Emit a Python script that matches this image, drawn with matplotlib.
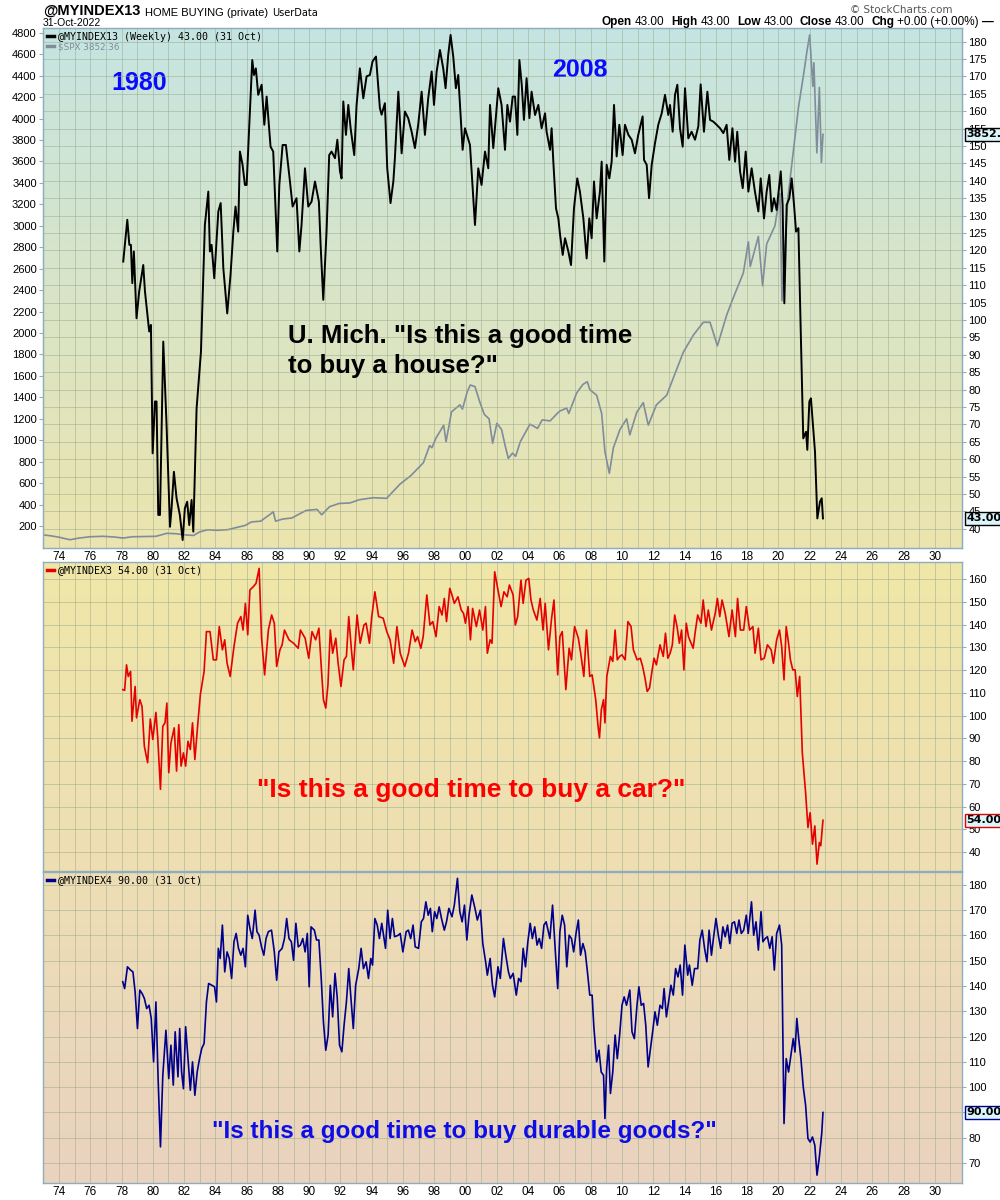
import matplotlib
matplotlib.use("Agg")
import matplotlib.pyplot as plt
import matplotlib.ticker as mticker
import numpy as np
from matplotlib.colors import to_rgb
from matplotlib.font_manager import FontProperties

plt.rcParams["font.family"] = ["Liberation Sans", "DejaVu Sans"]

# ---------------------------------------------------------------------------
# Data
# ---------------------------------------------------------------------------

HOUSE_YEARS = [
    1978.11, 1978.37, 1978.50, 1978.60, 1978.69, 1978.79, 1978.96, 1979.13, 1979.39, 1979.50,
    1979.77, 1979.88, 1979.99, 1980.14, 1980.24, 1980.35, 1980.46, 1980.67, 1980.88, 1981.10,
    1981.20, 1981.35, 1981.52, 1981.73, 1981.91, 1982.05, 1982.20, 1982.33, 1982.48, 1982.59,
    1982.80, 1983.08, 1983.33, 1983.55, 1983.65, 1983.76, 1983.93, 1984.19, 1984.34, 1984.51,
    1984.76, 1984.97, 1985.15, 1985.29, 1985.46, 1985.57, 1985.74, 1985.89, 1986.00, 1986.17,
    1986.36, 1986.47, 1986.59, 1986.74, 1986.96, 1987.13, 1987.28, 1987.53, 1987.70, 1987.96,
    1988.09, 1988.30, 1988.51, 1988.77, 1988.94, 1989.19, 1989.37, 1989.51, 1989.73, 1989.94,
    1990.15, 1990.37, 1990.62, 1990.73, 1990.90, 1991.11, 1991.28, 1991.43, 1991.65, 1991.80,
    1991.97, 1992.07, 1992.18, 1992.35, 1992.50, 1992.65, 1992.88, 1993.03, 1993.24, 1993.46,
    1993.67, 1993.88, 1994.05, 1994.27, 1994.52, 1994.63, 1994.84, 1994.99, 1995.20, 1995.38,
    1995.48, 1995.70, 1995.91, 1996.12, 1996.33, 1996.55, 1996.76, 1996.97, 1997.19, 1997.40,
    1997.61, 1997.83, 1997.98, 1998.15, 1998.36, 1998.57, 1998.72, 1998.89, 1999.04, 1999.21,
    1999.38, 1999.53, 1999.81, 1999.96, 2000.28, 2000.60, 2000.81, 2001.02, 2001.24, 2001.45,
    2001.56, 2001.77, 2002.09, 2002.30, 2002.52, 2002.67, 2002.84, 2003.01, 2003.16, 2003.31,
    2003.44, 2003.59, 2003.73, 2003.90, 2004.08, 2004.22, 2004.44, 2004.65, 2004.86, 2005.08,
    2005.18, 2005.40, 2005.50, 2005.61, 2005.78, 2005.93, 2006.04, 2006.21, 2006.36, 2006.57,
    2006.74, 2006.93, 2007.14, 2007.31, 2007.53, 2007.74, 2007.91, 2008.06, 2008.21, 2008.38,
    2008.59, 2008.70, 2008.87, 2009.02, 2009.19, 2009.34, 2009.49, 2009.66, 2009.83, 2010.04,
    2010.19, 2010.41, 2010.62, 2010.83, 2011.04, 2011.32, 2011.41, 2011.58, 2011.73, 2011.90,
    2012.11, 2012.32, 2012.54, 2012.75, 2012.96, 2013.07, 2013.24, 2013.39, 2013.54, 2013.71,
    2013.88, 2014.03, 2014.24, 2014.45, 2014.67, 2014.88, 2015.03, 2015.24, 2015.46, 2015.63,
    2015.84, 2016.05, 2016.27, 2016.48, 2016.69, 2016.86, 2017.06, 2017.23, 2017.37, 2017.55,
    2017.72, 2017.91, 2018.08, 2018.29, 2018.50, 2018.72, 2018.87, 2019.08, 2019.25, 2019.42,
    2019.57, 2019.72, 2019.89, 2020.15, 2020.27, 2020.38, 2020.53, 2020.70, 2020.85, 2021.00,
    2021.13, 2021.28, 2021.38, 2021.59, 2021.77, 2021.85, 2021.98, 2022.08, 2022.23, 2022.34,
    2022.49, 2022.66, 2022.77, 2022.85,
]
HOUSE_VALS = [
    116.8, 128.8, 121.6, 121.6, 110.6, 119.7, 100.5, 108.2, 115.8, 108.2,
    96.7, 98.6, 61.7, 76.6, 76.6, 44.0, 44.0, 93.8, 69.9, 40.6,
    45.9, 56.4, 48.8, 44.0, 36.8, 45.9, 47.8, 41.1, 48.3, 39.2,
    74.6, 90.9, 127.3, 136.9, 119.7, 121.6, 112.0, 131.2, 133.6, 114.9,
    101.9, 113.0, 125.4, 132.6, 125.4, 148.4, 144.6, 138.8, 138.8, 156.1,
    174.7, 170.4, 172.3, 164.7, 167.6, 156.1, 164.2, 149.8, 148.4, 119.7,
    138.8, 150.3, 150.3, 139.8, 132.6, 135.0, 119.7, 127.3, 143.6, 132.6,
    134.0, 139.8, 134.0, 121.6, 105.8, 125.4, 147.4, 148.4, 146.5, 151.8,
    142.7, 140.7, 162.8, 153.2, 161.8, 155.1, 147.4, 161.8, 172.3, 163.7,
    170.0, 170.4, 174.3, 175.7, 160.9, 159.0, 162.3, 143.6, 133.6, 139.8,
    146.5, 165.6, 147.9, 159.9, 158.0, 154.1, 149.4, 156.1, 165.6, 153.2,
    163.7, 171.4, 161.8, 171.4, 177.6, 172.3, 166.6, 176.2, 181.9, 175.7,
    166.6, 170.4, 148.9, 155.1, 150.3, 127.3, 143.6, 138.8, 148.4, 143.6,
    161.8, 149.4, 166.6, 161.8, 148.9, 161.8, 157.0, 164.2, 164.2, 153.2,
    174.7, 167.6, 157.5, 169.5, 158.0, 165.6, 158.9, 161.8, 155.1, 159.4,
    154.1, 148.9, 155.1, 145.5, 132.1, 129.2, 124.5, 118.7, 123.5, 119.7,
    115.8, 132.1, 140.7, 136.9, 129.2, 117.7, 129.2, 123.5, 139.8, 129.2,
    136.9, 145.5, 116.8, 144.6, 140.7, 145.5, 161.8, 147.0, 156.1, 147.4,
    156.1, 153.2, 151.8, 147.9, 153.2, 158.5, 146.0, 144.6, 135.0, 144.6,
    150.8, 156.1, 159.4, 164.7, 158.9, 161.8, 154.1, 164.7, 167.6, 155.1,
    149.8, 166.6, 152.2, 154.1, 151.8, 155.6, 167.7, 154.1, 165.6, 157.5,
    157.0, 156.1, 155.1, 153.7, 156.1, 146.0, 155.1, 145.5, 154.1, 142.7,
    137.9, 148.4, 136.9, 143.6, 136.9, 131.2, 140.7, 129.2, 136.9, 141.7,
    131.2, 135.0, 131.6, 142.7, 133.1, 104.8, 133.1, 135.0, 140.7, 133.1,
    125.4, 126.4, 106.3, 66.0, 67.9, 62.7, 76.6, 77.5, 68.9, 62.2,
    43.0, 47.8, 48.8, 43.0,
]

SPX_YEARS = [
    1972.98, 1973.50, 1974.00, 1974.70, 1975.30, 1976.00, 1976.80, 1977.50, 1978.10, 1978.70,
    1979.50, 1980.20, 1980.90, 1981.50, 1982.00, 1982.60, 1983.00, 1983.50, 1984.10, 1984.80,
    1985.40, 1985.90, 1986.30, 1986.90, 1987.60, 1987.70, 1987.85, 1988.30, 1988.90, 1989.40,
    1989.80, 1990.50, 1990.80, 1991.30, 1991.90, 1992.60, 1993.20, 1994.10, 1994.95, 1995.80,
    1996.50, 1997.30, 1997.70, 1997.85, 1998.10, 1998.60, 1998.75, 1999.10, 1999.64, 1999.80,
    2000.10, 2000.30, 2000.60, 2000.90, 2001.20, 2001.50, 2001.73, 2002.00, 2002.30, 2002.52,
    2002.73, 2003.00, 2003.20, 2003.50, 2004.12, 2004.60, 2004.90, 2005.40, 2006.00, 2006.46,
    2006.60, 2007.10, 2007.50, 2007.78, 2007.95, 2008.38, 2008.70, 2008.91, 2009.19, 2009.45,
    2009.87, 2010.30, 2010.50, 2010.94, 2011.36, 2011.68, 2012.20, 2012.86, 2013.28, 2013.92,
    2014.56, 2015.20, 2015.63, 2016.10, 2016.70, 2017.12, 2017.76, 2018.08, 2018.20, 2018.72,
    2018.99, 2019.25, 2019.78, 2020.10, 2020.23, 2020.60, 2021.00, 2021.28, 2021.60, 2021.85,
    2022.00, 2022.20, 2022.27, 2022.46, 2022.62, 2022.75, 2022.85,
]
SPX_VALS = [
    118, 108, 96, 72, 88, 100, 104, 98, 88, 100,
    102, 104, 132, 128, 118, 112, 145, 165, 160, 166,
    188, 205, 238, 245, 320, 334, 245, 265, 275, 315,
    345, 355, 305, 380, 410, 415, 445, 464, 458, 590,
    670, 790, 950, 930, 1018, 1140, 985, 1265, 1330, 1290,
    1450, 1515, 1500, 1360, 1240, 1200, 971, 1158, 1100, 956,
    831, 880, 850, 987, 1150, 1110, 1190, 1180, 1270, 1300,
    1250, 1440, 1520, 1546, 1470, 1420, 1250, 893, 691, 930,
    1100, 1200, 1050, 1260, 1350, 1140, 1330, 1420, 1580, 1820,
    1980, 2100, 2100, 1880, 2170, 2330, 2560, 2850, 2620, 2900,
    2440, 2830, 3000, 3300, 2300, 3250, 3750, 4100, 4400, 4650,
    4780, 4300, 4520, 3680, 4290, 3590, 3852.36,
]

CAR_YEARS = [
    1978.08, 1978.20, 1978.32, 1978.43, 1978.58, 1978.67, 1978.87, 1978.96, 1979.17, 1979.31,
    1979.46, 1979.67, 1979.84, 1980.00, 1980.20, 1980.31, 1980.49, 1980.64, 1980.78, 1980.90,
    1981.02, 1981.16, 1981.37, 1981.52, 1981.66, 1981.81, 1981.96, 1982.10, 1982.25, 1982.40,
    1982.54, 1982.69, 1982.90, 1983.04, 1983.28, 1983.43, 1983.66, 1983.87, 1984.07, 1984.25,
    1984.45, 1984.60, 1984.75, 1984.95, 1985.19, 1985.42, 1985.63, 1985.77, 1985.92, 1986.07,
    1986.21, 1986.42, 1986.60, 1986.80, 1986.95, 1987.15, 1987.39, 1987.60, 1987.77, 1987.92,
    1988.13, 1988.27, 1988.42, 1988.71, 1989.00, 1989.30, 1989.44, 1989.74, 1989.97, 1990.18,
    1990.41, 1990.62, 1990.77, 1990.91, 1991.06, 1991.20, 1991.35, 1991.50, 1991.70, 1991.85,
    1992.03, 1992.23, 1992.38, 1992.53, 1992.70, 1992.82, 1993.06, 1993.26, 1993.50, 1993.64,
    1993.85, 1993.99, 1994.20, 1994.44, 1994.73, 1994.96, 1995.17, 1995.40, 1995.61, 1995.82,
    1996.11, 1996.35, 1996.58, 1996.78, 1996.93, 1997.14, 1997.29, 1997.52, 1997.72, 1997.90,
    1998.11, 1998.31, 1998.49, 1998.64, 1998.78, 1998.99, 1999.13, 1999.28, 1999.51, 1999.72,
    1999.87, 1999.99, 2000.16, 2000.31, 2000.45, 2000.69, 2000.89, 2001.10, 2001.27, 2001.39,
    2001.57, 2001.69, 2001.86, 2002.07, 2002.27, 2002.45, 2002.66, 2002.80, 2003.04, 2003.18,
    2003.33, 2003.54, 2003.68, 2003.86, 2004.04, 2004.18, 2004.33, 2004.56, 2004.77, 2004.95,
    2005.09, 2005.30, 2005.50, 2005.65, 2005.89, 2006.03, 2006.18, 2006.41, 2006.62, 2006.77,
    2006.97, 2007.21, 2007.36, 2007.56, 2007.73, 2007.94, 2008.09, 2008.32, 2008.47, 2008.56,
    2008.68, 2008.82, 2008.91, 2009.03, 2009.26, 2009.41, 2009.56, 2009.70, 2009.85, 2010.00,
    2010.20, 2010.38, 2010.58, 2010.73, 2010.97, 2011.17, 2011.32, 2011.47, 2011.61, 2011.76,
    2011.90, 2012.05, 2012.20, 2012.43, 2012.64, 2012.78, 2012.93, 2013.08, 2013.22, 2013.37,
    2013.52, 2013.67, 2013.81, 2013.96, 2014.11, 2014.25, 2014.55, 2014.70, 2014.84, 2015.05,
    2015.19, 2015.37, 2015.52, 2015.72, 2015.96, 2016.10, 2016.25, 2016.40, 2016.60, 2016.84,
    2017.04, 2017.25, 2017.39, 2017.57, 2017.78, 2017.95, 2018.16, 2018.37, 2018.51, 2018.72,
    2018.89, 2019.10, 2019.30, 2019.54, 2019.68, 2019.89, 2020.07, 2020.21, 2020.36, 2020.50,
    2020.65, 2020.77, 2020.92, 2021.07, 2021.21, 2021.36, 2021.53, 2021.74, 2021.89, 2022.03,
    2022.18, 2022.33, 2022.47, 2022.62, 2022.71, 2022.85,
]
CAR_VALS = [
    111.4, 111.1, 122.3, 117.2, 119.4, 97.5, 112.8, 99.0, 107.0, 104.1,
    86.5, 79.3, 98.5, 89.5, 101.4, 90.9, 67.6, 95.3, 96.8, 105.5,
    74.9, 88.0, 94.6, 75.6, 96.0, 77.8, 83.6, 77.8, 88.7, 85.1,
    96.8, 80.7, 98.2, 109.2, 119.4, 136.9, 136.9, 124.5, 124.5, 139.1,
    128.9, 133.3, 123.0, 117.2, 130.3, 140.6, 143.5, 137.6, 149.3, 135.5,
    155.2, 156.6, 158.1, 164.7, 134.7, 117.9, 137.6, 144.2, 140.6, 121.6,
    128.9, 131.1, 137.6, 133.3, 131.8, 129.6, 137.6, 134.0, 125.2, 136.9,
    133.3, 138.4, 121.6, 107.0, 103.3, 113.6, 137.6, 127.4, 134.0, 123.0,
    112.8, 124.5, 126.0, 143.5, 128.9, 120.1, 144.2, 131.8, 139.8, 140.6,
    131.8, 142.8, 154.4, 143.5, 142.8, 136.9, 133.3, 123.0, 139.1, 127.4,
    121.6, 127.4, 137.6, 132.5, 134.7, 129.6, 134.7, 153.0, 139.8, 141.3,
    134.7, 147.9, 144.2, 151.5, 141.3, 155.9, 153.0, 149.3, 152.2, 146.4,
    144.9, 140.6, 147.9, 133.3, 147.1, 139.1, 146.4, 137.6, 147.9, 127.4,
    133.3, 131.8, 163.2, 155.2, 147.9, 154.4, 152.2, 157.4, 153.0, 139.8,
    143.5, 159.5, 149.3, 159.5, 160.3, 150.8, 146.4, 142.0, 151.5, 137.6,
    149.3, 128.9, 142.8, 150.8, 117.9, 134.7, 136.9, 111.4, 129.6, 124.5,
    139.1, 134.0, 127.4, 117.2, 137.6, 117.2, 117.9, 107.0, 95.3, 90.2,
    102.6, 107.0, 96.8, 117.2, 126.0, 123.8, 137.6, 124.5, 126.0, 126.7,
    124.5, 141.3, 139.1, 128.9, 124.5, 125.2, 121.6, 116.5, 110.6, 112.1,
    118.7, 125.2, 122.3, 131.1, 126.0, 136.2, 125.2, 127.4, 131.1, 144.2,
    139.1, 131.8, 137.6, 120.1, 140.6, 134.7, 129.6, 137.6, 144.2, 140.6,
    150.8, 139.1, 146.4, 137.6, 144.9, 151.5, 143.5, 150.8, 144.9, 134.7,
    146.4, 134.7, 151.5, 137.6, 137.6, 147.9, 137.6, 139.1, 127.4, 138.4,
    124.5, 125.2, 131.1, 128.9, 123.0, 133.3, 137.6, 130.3, 115.7, 139.1,
    131.8, 124.5, 120.1, 120.1, 108.4, 117.2, 83.6, 66.1, 50.8, 57.3,
    43.5, 51.5, 34.7, 44.2, 42.8, 54.0,
]

DURABLE_YEARS = [
    1978.08, 1978.20, 1978.38, 1978.58, 1978.73, 1978.87, 1979.02, 1979.17, 1979.32, 1979.46,
    1979.61, 1979.76, 1979.90, 1980.05, 1980.20, 1980.34, 1980.49, 1980.64, 1980.84, 1981.02,
    1981.16, 1981.31, 1981.43, 1981.61, 1981.72, 1981.84, 1981.96, 1982.10, 1982.25, 1982.40,
    1982.54, 1982.69, 1982.84, 1982.99, 1983.13, 1983.28, 1983.43, 1983.57, 1983.78, 1983.95,
    1984.07, 1984.19, 1984.31, 1984.45, 1984.60, 1984.75, 1984.89, 1985.04, 1985.19, 1985.33,
    1985.48, 1985.63, 1985.77, 1985.92, 1986.07, 1986.21, 1986.36, 1986.54, 1986.66, 1986.80,
    1986.95, 1987.10, 1987.24, 1987.39, 1987.59, 1987.77, 1987.92, 1988.06, 1988.27, 1988.42,
    1988.56, 1988.71, 1988.86, 1989.00, 1989.15, 1989.30, 1989.44, 1989.59, 1989.74, 1989.88,
    1990.00, 1990.12, 1990.33, 1990.47, 1990.62, 1990.77, 1990.91, 1991.06, 1991.21, 1991.35,
    1991.50, 1991.65, 1991.79, 1991.94, 1992.09, 1992.23, 1992.38, 1992.53, 1992.67, 1992.82,
    1992.97, 1993.17, 1993.32, 1993.47, 1993.64, 1993.79, 1993.94, 1994.05, 1994.20, 1994.35,
    1994.49, 1994.64, 1994.88, 1995.02, 1995.17, 1995.32, 1995.46, 1995.70, 1995.82, 1995.99,
    1996.20, 1996.34, 1996.49, 1996.64, 1996.78, 1996.99, 1997.17, 1997.31, 1997.46, 1997.61,
    1997.75, 1997.87, 1998.02, 1998.16, 1998.31, 1998.46, 1998.64, 1998.78, 1998.93, 1999.13,
    1999.28, 1999.48, 1999.63, 1999.78, 1999.93, 2000.08, 2000.22, 2000.40, 2000.60, 2000.75,
    2000.95, 2001.10, 2001.28, 2001.39, 2001.57, 2001.72, 2001.86, 2002.07, 2002.22, 2002.42,
    2002.57, 2002.74, 2002.86, 2003.04, 2003.24, 2003.39, 2003.54, 2003.68, 2003.83, 2003.98,
    2004.13, 2004.27, 2004.42, 2004.57, 2004.71, 2004.86, 2005.01, 2005.15, 2005.39, 2005.56,
    2005.74, 2005.89, 2006.03, 2006.18, 2006.33, 2006.47, 2006.62, 2006.77, 2006.91, 2007.06,
    2007.21, 2007.35, 2007.50, 2007.65, 2007.79, 2007.94, 2008.09, 2008.20, 2008.38, 2008.53,
    2008.67, 2008.82, 2008.91, 2009.02, 2009.14, 2009.26, 2009.41, 2009.56, 2009.70, 2009.85,
    2010.00, 2010.14, 2010.29, 2010.50, 2010.64, 2010.79, 2010.96, 2011.08, 2011.23, 2011.38,
    2011.52, 2011.67, 2011.82, 2011.96, 2012.11, 2012.26, 2012.43, 2012.58, 2012.69, 2012.84,
    2012.99, 2013.13, 2013.28, 2013.43, 2013.58, 2013.72, 2013.87, 2014.02, 2014.20, 2014.31,
    2014.49, 2014.64, 2014.84, 2014.98, 2015.13, 2015.28, 2015.43, 2015.57, 2015.72, 2015.86,
    2016.01, 2016.16, 2016.31, 2016.45, 2016.60, 2016.75, 2016.89, 2017.04, 2017.19, 2017.34,
    2017.48, 2017.63, 2017.78, 2017.95, 2018.07, 2018.28, 2018.42, 2018.57, 2018.72, 2018.89,
    2019.01, 2019.16, 2019.30, 2019.45, 2019.60, 2019.74, 2019.89, 2020.07, 2020.21, 2020.36,
    2020.50, 2020.65, 2020.80, 2020.95, 2021.06, 2021.18, 2021.30, 2021.44, 2021.59, 2021.74,
    2021.89, 2022.03, 2022.18, 2022.33, 2022.47, 2022.62, 2022.77, 2022.85,
]
DURABLE_VALS = [
    141.7, 139.0, 147.6, 146.3, 145.6, 137.7, 123.2, 138.4, 137.0, 135.1,
    131.1, 132.4, 127.2, 110.0, 133.7, 103.4, 76.4, 104.7, 122.5, 103.4,
    116.6, 100.8, 121.9, 104.1, 123.2, 106.1, 99.4, 123.9, 111.3, 98.8,
    110.0, 96.8, 106.1, 111.3, 115.3, 117.3, 133.7, 141.0, 140.3, 139.7,
    133.7, 154.9, 150.9, 164.1, 145.6, 153.5, 150.9, 143.0, 157.5, 160.8,
    154.9, 152.2, 154.9, 147.6, 168.0, 162.8, 158.8, 170.0, 161.5, 160.1,
    155.5, 152.2, 158.8, 161.5, 162.1, 153.5, 142.3, 153.5, 154.9, 158.8,
    166.7, 158.8, 157.5, 150.2, 164.8, 155.5, 156.2, 158.8, 153.5, 160.8,
    139.7, 163.4, 162.1, 158.2, 158.2, 143.0, 125.8, 114.6, 120.6, 140.3,
    127.8, 145.0, 135.7, 116.6, 114.0, 124.5, 133.7, 146.9, 135.1, 123.2,
    140.3, 146.9, 154.9, 146.9, 149.6, 143.0, 150.9, 148.3, 166.7, 164.1,
    158.8, 164.8, 154.9, 170.0, 158.8, 166.7, 159.5, 160.1, 160.8, 153.5,
    161.5, 162.1, 158.8, 164.1, 155.5, 154.9, 165.4, 166.7, 173.3, 168.0,
    170.7, 161.5, 169.4, 166.7, 171.3, 166.7, 162.1, 165.4, 170.7, 167.4,
    172.0, 182.6, 169.4, 165.4, 172.0, 158.2, 168.0, 176.0, 170.7, 166.1,
    170.0, 156.8, 149.6, 144.3, 150.9, 140.3, 135.7, 147.6, 143.0, 158.8,
    152.2, 145.6, 143.0, 145.0, 136.4, 143.0, 141.7, 154.9, 147.6, 157.5,
    164.8, 158.8, 163.4, 156.2, 158.8, 154.9, 164.1, 165.4, 158.8, 172.0,
    153.5, 139.0, 161.5, 168.0, 164.1, 147.6, 160.1, 158.8, 153.5, 160.8,
    166.1, 152.2, 156.8, 153.5, 145.6, 136.4, 136.4, 123.9, 110.0, 114.6,
    106.0, 104.7, 87.6, 107.4, 116.6, 97.5, 106.0, 120.6, 111.3, 120.6,
    132.4, 135.7, 132.4, 138.4, 121.9, 119.2, 132.4, 139.7, 132.4, 133.1,
    124.5, 108.0, 115.3, 121.9, 129.8, 124.5, 132.4, 131.1, 139.0, 127.8,
    134.4, 140.3, 136.4, 146.9, 143.6, 148.3, 136.4, 156.2, 144.3, 148.3,
    140.3, 146.9, 146.9, 158.2, 162.1, 154.9, 149.6, 162.1, 152.2, 159.5,
    166.7, 160.1, 154.9, 163.4, 159.5, 164.1, 156.8, 164.8, 165.4, 160.8,
    166.1, 160.8, 162.1, 168.0, 160.8, 173.3, 160.1, 165.4, 154.2, 169.4,
    157.5, 158.8, 159.5, 154.9, 159.5, 146.3, 160.8, 164.1, 156.2, 85.6,
    111.3, 106.0, 112.6, 119.2, 113.9, 127.2, 119.2, 111.3, 100.1, 92.9,
    79.7, 78.3, 80.3, 77.0, 65.2, 72.4, 81.6, 90.0,
]

SPX_TICKS = list(range(200, 4801, 200))
HOUSE_TICKS = list(range(40, 181, 5))
CAR_TICKS = list(range(40, 161, 10))
DURABLE_TICKS = list(range(70, 181, 10))

# ---------------------------------------------------------------------------
# Theme
# ---------------------------------------------------------------------------

COLORS = {
    "house": "#000000",
    "spx": "#7f8c9c",
    "car": "#e60000",
    "durable": "#00008c",
    "grid": "#98a98a",
    "spine": "#8eaebe",
    "tag_bg": "#dcf5fa",
    "note_blue": "#0a0aff",
    "note_red": "#ff0000",
    "note_blue2": "#0d0de6",
}

X_MIN, X_MAX = 1972.98, 2031.74
MONO = FontProperties(family="DejaVu Sans Mono", size=7.2)


def _gradient(ax, top, bottom):
    t = np.array(to_rgb(top))
    b = np.array(to_rgb(bottom))
    f = np.linspace(0, 1, 256)[:, None]
    img = (t * (1 - f) + b * f)[:, None, :]
    ax.imshow(img, extent=(0, 1, 0, 1), transform=ax.transAxes,
              aspect="auto", zorder=-10, interpolation="bilinear")


def _style_x(ax, labels=True):
    ax.set_xlim(X_MIN, X_MAX)
    ax.xaxis.set_major_locator(mticker.MultipleLocator(2))
    ax.xaxis.set_minor_locator(mticker.MultipleLocator(1))
    ax.xaxis.set_major_formatter(
        mticker.FuncFormatter(lambda v, p: f"{int(round(v)) % 100:02d}"))
    ax.grid(True, axis="x", which="both", color=COLORS["grid"], lw=0.7, alpha=0.5)
    ax.tick_params(axis="x", which="both", length=0, labelsize=8.5, pad=2,
                   labelbottom=labels)
    for s in ax.spines.values():
        s.set_color(COLORS["spine"])
        s.set_linewidth(1.0)


def _style_right(ax, ticks, ylim):
    ax.yaxis.tick_right()
    ax.set_ylim(*ylim)
    ax.set_yticks(ticks)
    ax.yaxis.set_major_formatter(mticker.FuncFormatter(lambda v, p: f"{int(v)}"))
    ax.tick_params(axis="y", which="both", left=False, right=True, direction="out",
                   length=3, width=0.8, color=COLORS["spine"], labelsize=8, pad=1.5)
    ax.grid(True, axis="y", color=COLORS["grid"], lw=0.7, alpha=0.5)


def _tag(ax, value, text, edge, coords=None):
    if coords is None:
        coords = ("axes fraction", "data")
    ax.annotate(text, xy=(1, value), xycoords=coords,
                xytext=(3, 0), textcoords="offset points", ha="left", va="center",
                fontsize=8, fontweight="bold", family="DejaVu Sans",
                bbox=dict(boxstyle="square,pad=0.15", fc=COLORS["tag_bg"], ec=edge, lw=1),
                annotation_clip=False, zorder=20)


def _legend(ax, handles, labels):
    leg = ax.legend(handles, labels, loc="upper left", bbox_to_anchor=(0.0, 1.0),
                    frameon=False, prop=MONO, handlelength=0.7, handletextpad=0.5,
                    labelspacing=0.05, borderaxespad=0.1, borderpad=0.25)
    for h in leg.legend_handles:
        h.set_linewidth(2.5)
    return leg


fig = plt.figure(figsize=(10, 12), dpi=100)
fig.patch.set_facecolor("white")

ax_top = fig.add_axes([0.043, 0.54333, 0.919, 0.43333])
ax_mid = fig.add_axes([0.043, 0.27417, 0.919, 0.2575])
ax_bot = fig.add_axes([0.043, 0.014167, 0.919, 0.25917])

# --- top panel: home buying + S&P 500 -------------------------------------
_gradient(ax_top, "#c5e4e2", "#ece5ae")
spx_line, = ax_top.plot(SPX_YEARS, SPX_VALS, color=COLORS["spx"], lw=1.2)
_style_x(ax_top, labels=True)
ax_top.set_ylim(-5, 4844)
ax_top.set_yticks(SPX_TICKS)
ax_top.yaxis.set_major_formatter(mticker.FuncFormatter(lambda v, p: f"{int(v)}"))
ax_top.tick_params(axis="y", direction="out", length=3, width=0.8,
                   color=COLORS["spine"], labelsize=8, pad=1.5)

ax_house = ax_top.twinx()
house_line, = ax_house.plot(HOUSE_YEARS, HOUSE_VALS, color=COLORS["house"], lw=1.4)
_style_right(ax_house, HOUSE_TICKS, (34.5, 183.9))
ax_house.set_xlim(X_MIN, X_MAX)
for s in ax_house.spines.values():
    s.set_color(COLORS["spine"])

leg = _legend(ax_house, [house_line, spx_line],
              [f"@MYINDEX13 (Weekly) {HOUSE_VALS[-1]:.2f} (31 Oct)",
               f"$SPX {SPX_VALS[-1]:.2f}"])
leg.get_texts()[1].set_color(COLORS["spx"])
leg.get_texts()[1].set_fontsize(6.3)
leg.get_texts()[1].set_family("DejaVu Sans")

# both tags live on the twin so they sit above its tick labels
_tag(ax_house, SPX_VALS[-1], f"{SPX_VALS[-1]:.2f}", "black",
     coords=ax_top.get_yaxis_transform())
_tag(ax_house, HOUSE_VALS[-1], f"{HOUSE_VALS[-1]:.2f}", "black")

ax_top.text(0.1045, 0.894, "1980", transform=ax_top.transAxes, ha="center", va="center",
            fontsize=18, fontweight="bold", color=COLORS["note_blue"], zorder=15)
ax_top.text(0.584, 0.919, "2008", transform=ax_top.transAxes, ha="center", va="center",
            fontsize=18, fontweight="bold", color=COLORS["note_blue"], zorder=15)
ax_house.text(0.2666, 0.379, 'U. Mich. "Is this a good time\nto buy a house?"',
              transform=ax_house.transAxes, ha="left", va="center", fontsize=18.5,
              fontweight="bold", color="black", linespacing=1.3)

# --- middle panel: cars -----------------------------------------------------
_gradient(ax_mid, "#f0e7a8", "#eedeb3")
car_line, = ax_mid.plot(CAR_YEARS, CAR_VALS, color=COLORS["car"], lw=1.2)
_style_x(ax_mid, labels=False)
_style_right(ax_mid, CAR_TICKS, (31.7, 167.5))
_legend(ax_mid, [car_line], [f"@MYINDEX3 {CAR_VALS[-1]:.2f} (31 Oct)"])
_tag(ax_mid, CAR_VALS[-1], f"{CAR_VALS[-1]:.2f}", COLORS["car"])
ax_mid.text(0.4663, 0.262, '"Is this a good time to buy a car?"', transform=ax_mid.transAxes,
            ha="center", va="center", fontsize=19, fontweight="bold", color=COLORS["note_red"])

# --- bottom panel: durable goods -------------------------------------------
_gradient(ax_bot, "#eedeb5", "#e9d2bf")
dur_line, = ax_bot.plot(DURABLE_YEARS, DURABLE_VALS, color=COLORS["durable"], lw=1.2)
_style_x(ax_bot, labels=True)
_style_right(ax_bot, DURABLE_TICKS, (62.1, 185.1))
_legend(ax_bot, [dur_line], [f"@MYINDEX4 {DURABLE_VALS[-1]:.2f} (31 Oct)"])
_tag(ax_bot, DURABLE_VALS[-1], f"{DURABLE_VALS[-1]:.2f}", COLORS["durable"])
ax_bot.text(0.4587, 0.164, '"Is this a good time to buy durable goods?"',
            transform=ax_bot.transAxes, ha="center", va="center", fontsize=17.5,
            fontweight="bold", color=COLORS["note_blue2"])

# --- header -------------------------------------------------------------------
ov = fig.add_axes([0, 0, 1, 1])
ov.set_axis_off()
ov.patch.set_visible(False)
ov.set_xlim(0, 1000)
ov.set_ylim(1200, 0)


def _chain(x, y, parts):
    prev = ov.text(x, y, parts[0][0], ha="left", va="baseline", **parts[0][1])
    for text, kw in parts[1:]:
        gap = kw.pop("gap", 3)
        prev = ov.annotate(text, xy=(1, 0), xycoords=prev, xytext=(gap, 0),
                           textcoords="offset points", ha="left", va="bottom", **kw)
    return prev


_chain(43, 15, [
    ("@MYINDEX13", dict(fontsize=10.5, fontweight="bold")),
    ("HOME BUYING (private)", dict(fontsize=8)),
    ("UserData", dict(fontsize=7, family="DejaVu Sans")),
])
ov.text(43, 25.5, "31-Oct-2022", ha="left", va="baseline", fontsize=7.5)
ov.text(952, 13, "\u00a9 StockCharts.com", ha="right", va="baseline", fontsize=7.5,
        color="#555555", family="DejaVu Sans")
_chain(602, 25, [
    ("Open", dict(fontsize=8.5, fontweight="bold")),
    ("43.00", dict(fontsize=8.5, gap=2)),
    ("High", dict(fontsize=8.5, fontweight="bold", gap=5)),
    ("43.00", dict(fontsize=8.5, gap=2)),
    ("Low", dict(fontsize=8.5, fontweight="bold", gap=5)),
    ("43.00", dict(fontsize=8.5, gap=2)),
    ("Close", dict(fontsize=8.5, fontweight="bold", gap=5)),
    ("43.00", dict(fontsize=8.5, gap=2)),
    ("Chg", dict(fontsize=8.5, fontweight="bold", gap=5)),
    ("+0.00 (+0.00%)", dict(fontsize=8.5, gap=2)),
    ("\u2014", dict(fontsize=8.5, fontweight="bold", gap=2)),
])

fig.savefig("out.png", dpi=100, facecolor="white")
